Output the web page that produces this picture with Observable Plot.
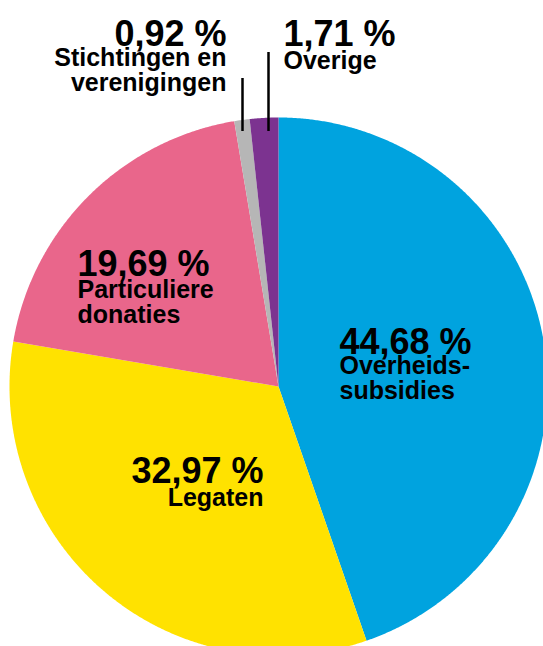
<!DOCTYPE html>
<html><head><meta charset="utf-8">
<script src="https://cdn.jsdelivr.net/npm/d3@7"></script>
<script src="https://cdn.jsdelivr.net/npm/@observablehq/plot@0.6"></script>
<style>html,body{margin:0;padding:0;background:#fff;overflow:hidden}</style>
</head><body><div id="chart"></div>
<script>
// ---- data ----
const categories = ["Overheidssubsidies", "Legaten", "Particuliere donaties", "Stichtingen en verenigingen", "Overige"];
const shares = [44.68, 32.97, 19.69, 0.92, 1.71];
const percentLabels = ["44,68 %", "32,97 %", "19,69 %", "0,92 %", "1,71 %"];
const nameLabels = ["Overheids-\nsubsidies", "Legaten", "Particuliere\ndonaties", "Stichtingen en\nverenigingen", "Overige"];
const colors = ["#00a3df", "#ffe200", "#e9668b", "#b6b6b6", "#7c3390"];

// ---- layout (pixels) ----
const W = 543, H = 646, CX = 278, CY = 386, R = 269;
const ux = px => (px - CX) / R, uy = py => (CY - py) / R;
const labelLayout = [
  {px: 339, pctBase: 353, nameBase: 398, anchor: "start"},
  {px: 263, pctBase: 482, nameBase: 505, anchor: "end"},
  {px: 77,  pctBase: 275, nameBase: 322, anchor: "start"},
  {px: 226, pctBase: 45,  nameBase: 90,  anchor: "end"},
  {px: 283, pctBase: 45,  nameBase: 68,  anchor: "start"}
];
const leaderLayout = [
  {index: 3, px: 242, top: 78, bottom: 131},
  {index: 4, px: 268, top: 52, bottom: 131}
];

// ---- geometry from data ----
const table = categories.map((c, i) => ({category: c, share: shares[i], color: colors[i]}));
const arcs = d3.pie().sort(null).value(d => d.share).startAngle(0).endAngle(2 * Math.PI)(table);
const polys = [];
arcs.forEach(a => {
  polys.push({k: a.data.category, color: a.data.color, x: 0, y: 0});
  const n = Math.max(2, Math.ceil((a.endAngle - a.startAngle) / 0.005));
  for (let j = 0; j <= n; j++) {
    const t = a.startAngle + (a.endAngle - a.startAngle) * j / n;
    polys.push({k: a.data.category, color: a.data.color, x: Math.sin(t), y: Math.cos(t)});
  }
  polys.push({k: a.data.category, color: a.data.color, x: 0, y: 0});
});

const labels = categories.map((c, i) => ({
  pct: percentLabels[i], name: nameLabels[i],
  x: ux(labelLayout[i].px), yp: uy(labelLayout[i].pctBase), yn: uy(labelLayout[i].nameBase),
  anchor: labelLayout[i].anchor
}));
const leaders = leaderLayout.map(l => ({x: ux(l.px), y1: uy(l.top), y2: uy(l.bottom)}));

const textMarks = [];
for (const anchor of ["start", "end"]) {
  const sub = labels.filter(d => d.anchor === anchor);
  textMarks.push(Plot.text(sub, {x: "x", y: "yp", text: "pct", textAnchor: anchor, lineAnchor: "bottom",
    fontSize: 36, fontWeight: "bold", fill: "black"}));
  textMarks.push(Plot.text(sub, {x: "x", y: "yn", text: "name", textAnchor: anchor, lineAnchor: "bottom",
    fontSize: 25, fontWeight: "bold", lineHeight: 0.97, fill: "black"}));
}

const chart = Plot.plot({
  width: W, height: H,
  marginTop: 0, marginRight: 0, marginBottom: 0, marginLeft: 0,
  x: {domain: [-1, 1], range: [CX - R, CX + R], axis: null},
  y: {domain: [-1, 1], range: [CY + R, CY - R], axis: null},
  color: {type: "identity"},
  style: {fontFamily: "'Liberation Sans', Arial, sans-serif", background: "white"},
  marks: [
    Plot.line(polys, {x: "x", y: "y", z: "k", fill: "color", stroke: "none"}),
    Plot.ruleX(leaders, {x: "x", y1: "y1", y2: "y2", stroke: "black", strokeWidth: 2.5}),
    ...textMarks
  ]
});
document.getElementById("chart").appendChild(chart);
</script>
</body></html>
